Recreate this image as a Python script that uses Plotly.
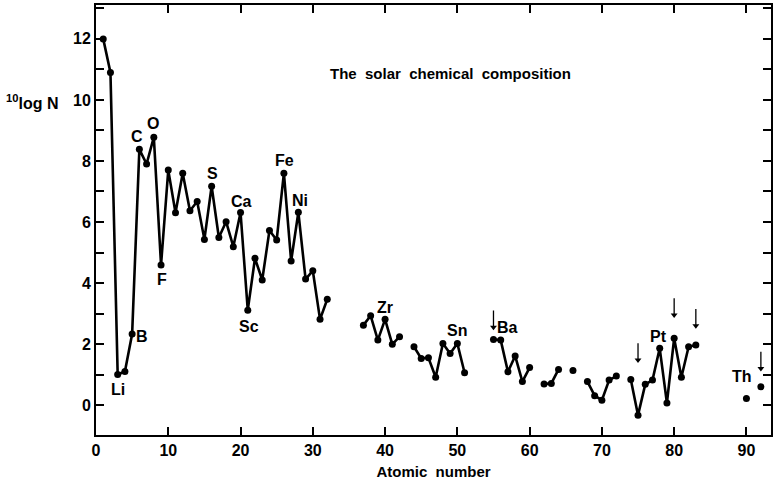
import plotly.graph_objects as go

# Atomic numbers 1..92 and log abundance (None = no data / gap)
atomic_number = list(range(1, 93))
log_n = [
    12.0, 10.9, 1.0, 1.1, 2.33, 8.38, 7.9, 8.78, 4.59, 7.7,        # 1-10
    6.3, 7.6, 6.37, 6.67, 5.43, 7.17, 5.49, 6.01, 5.19, 6.31,      # 11-20
    3.11, 4.81, 4.10, 5.72, 5.41, 7.6, 4.72, 6.32, 4.13, 4.40,     # 21-30
    2.81, 3.47, None, None, None, None, 2.62, 2.93, 2.13, 2.81,    # 31-40
    1.99, 2.24, None, 1.91, 1.53, 1.55, 0.91, 2.02, 1.69, 2.02,    # 41-50
    1.06, None, None, None, 2.15, 2.13, 1.09, 1.61, 0.77, 1.23,    # 51-60
    None, 0.69, 0.71, 1.17, None, 1.13, None, 0.77, 0.31, 0.16,    # 61-70
    0.82, 0.95, None, 0.84, -0.33, 0.68, 0.82, 1.86, 0.07, 2.19,   # 71-80
    0.91, 1.91, 1.97, None, None, None, None, None, None, 0.22,    # 81-90
    None, 0.6,                                                     # 91-92
]

# Element labels and their text positions (atomic number, log N)
label_text = ["Li", "B", "C", "O", "F", "S", "Ca", "Sc", "Fe", "Ni",
              "Zr", "Sn", "Ba", "Pt", "Th"]
label_z = [3.1, 6.4, 5.65, 7.9, 9.1, 16.1, 20.1, 21.2, 26.1, 28.2,
           40.0, 50.0, 57.0, 77.8, 89.4]
label_y = [0.5, 2.26, 8.8, 9.24, 4.1, 7.6, 6.67, 2.59, 8.0, 6.72,
           3.2, 2.46, 2.55, 2.26, 0.93]

# Downward arrows (atomic number, tip position in log N, shaft length in log N)
arrow_z = [55, 75, 80, 83, 92]
arrow_tip = [2.45, 1.38, 2.85, 2.5, 1.1]
arrow_len = 0.65

x_ticks = [0, 10, 20, 30, 40, 50, 60, 70, 80, 90]
y_ticks = [0, 2, 4, 6, 8, 10, 12]

FONT = "Liberation Sans, Arial, sans-serif"

fig = go.Figure()
fig.add_trace(go.Scatter(
    x=atomic_number, y=log_n, mode="lines+markers",
    connectgaps=False,
    line=dict(color="black", width=2.6),
    marker=dict(color="black", size=7),
    showlegend=False, hoverinfo="skip",
))

# arrow shafts
shaft_x, shaft_y = [], []
for zx, zy in zip(arrow_z, arrow_tip):
    shaft_x += [zx, zx, None]
    shaft_y += [zy + 0.12, zy + arrow_len, None]
fig.add_trace(go.Scatter(x=shaft_x, y=shaft_y, mode="lines",
                         line=dict(color="black", width=1.3),
                         showlegend=False, hoverinfo="skip"))
# arrow heads
fig.add_trace(go.Scatter(x=arrow_z, y=[t + 0.1 for t in arrow_tip], mode="markers",
                         marker=dict(symbol="triangle-down", size=6, color="black"),
                         showlegend=False, hoverinfo="skip"))

annotations = []
for t, zx, zy in zip(label_text, label_z, label_y):
    annotations.append(dict(x=zx, y=zy, xref="x", yref="y", text=f"<b>{t}</b>",
                            showarrow=False, font=dict(size=16, color="black", family=FONT)))

annotations.append(dict(x=49.1, y=10.85, xref="x", yref="y",
                        text="<b>The\u00a0 solar\u00a0 chemical\u00a0 composition</b>",
                        showarrow=False, font=dict(size=15, color="black", family=FONT)))
annotations.append(dict(x=-0.095, y=0.775, xref="paper", yref="paper",
                        xanchor="center", yanchor="middle",
                        text="<b><sup>10</sup>log N</b>", showarrow=False,
                        font=dict(size=16, color="black", family=FONT)))

fig.update_layout(
    width=775, height=488,
    margin=dict(l=96, r=2, t=5, b=53),
    paper_bgcolor="white", plot_bgcolor="white",
    font=dict(family=FONT, color="black", size=16),
    annotations=annotations,
    xaxis=dict(
        range=[0, 93.4], tickvals=x_ticks, ticktext=[f"<b>{v}</b>" for v in x_ticks],
        ticks="inside", ticklen=8, tickwidth=2, tickcolor="black",
        showline=True, linewidth=2, linecolor="black", mirror="ticks",
        showgrid=False, zeroline=False,
        title=dict(text="<b>Atomic\u00a0 number</b>", font=dict(size=15), standoff=8),
    ),
    yaxis=dict(
        range=[-0.98, 13.11], tickvals=y_ticks, ticktext=[f"<b>{v}</b>" for v in y_ticks],
        ticks="inside", ticklen=8, tickwidth=2, tickcolor="black",
        minor=dict(dtick=1, tick0=0, ticks="inside", ticklen=8, tickwidth=2, tickcolor="black"),
        showline=True, linewidth=2, linecolor="black", mirror="ticks",
        showgrid=False, zeroline=False,
    ),
)

fig.write_html("out.html", config={"displayModeBar": False},
               post_script="document.body.style.margin='0';document.body.style.padding='0';")
